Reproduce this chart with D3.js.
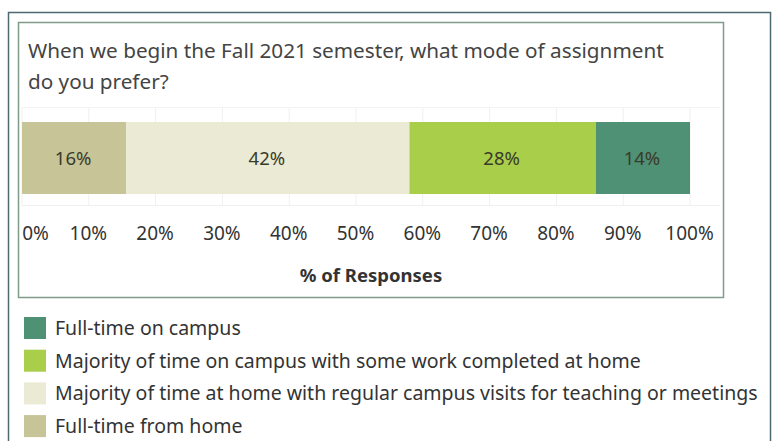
<!DOCTYPE html>
<html>
<head>
<meta charset="utf-8">
<script src="https://cdn.jsdelivr.net/npm/d3@7"></script>
<style>
  body { margin: 0; background: #fff; }
  text { font-family: "Noto Sans", sans-serif; fill: #333; }
</style>
</head>
<body>
<svg id="chart" width="775" height="441"></svg>
<script>
// data
var categories = ["Full-time from home",
                  "Majority of time at home with regular campus visits for teaching or meetings",
                  "Majority of time on campus with some work completed at home",
                  "Full-time on campus"];
var values = [15.6, 42.4, 27.9, 14.1];
var colors = ["#c7c498", "#ebead4", "#a9ce4a", "#4f9174"];
var tickValues = [0, 10, 20, 30, 40, 50, 60, 70, 80, 90, 100];
var titleLines = ["When we begin the Fall 2021 semester, what mode of assignment",
                  "do you prefer?"];
var legendOrder = [3, 2, 1, 0];

var svg = d3.select("#chart");

// outer + inner frames
svg.append("rect")
    .attr("x", 8.5).attr("y", 12.5)
    .attr("width", 762).attr("height", 440)
    .attr("fill", "none").attr("stroke", "#4d6a72").attr("stroke-width", 1.5);

svg.append("rect")
    .attr("x", 18.5).attr("y", 22.5)
    .attr("width", 705).attr("height", 275)
    .attr("fill", "none").attr("stroke", "#7f9c8b").attr("stroke-width", 1.5);

// title
svg.append("g").selectAll("text")
    .data(titleLines)
    .enter().append("text")
    .attr("x", 28)
    .attr("y", function (d, i) { return 58 + i * 31; })
    .style("font-size", "20.7px")
    .style("fill", "#444")
    .text(function (d) { return d; });

var x = d3.scaleLinear().domain([0, 100]).range([22, 690]);
var barTop = 122, barH = 72;

// gridlines
svg.append("g").selectAll("line")
    .data(tickValues)
    .enter().append("line")
    .attr("x1", function (d) { return x(d); })
    .attr("x2", function (d) { return x(d); })
    .attr("y1", 107).attr("y2", 206)
    .attr("stroke", "#f0f0f0").attr("stroke-width", 1);

svg.append("line")
    .attr("x1", 22).attr("x2", 720)
    .attr("y1", 107.5).attr("y2", 107.5)
    .attr("stroke", "#f3f3f3");
svg.append("line")
    .attr("x1", 22).attr("x2", 720)
    .attr("y1", 205.5).attr("y2", 205.5)
    .attr("stroke", "#efefef");

// stacked bar
var stack = [];
var acc = 0;
values.forEach(function (v, i) {
    stack.push({ start: acc, end: acc + v, value: v, color: colors[i] });
    acc += v;
});

var seg = svg.append("g").selectAll("g")
    .data(stack)
    .enter().append("g");

seg.append("rect")
    .attr("x", function (d) { return x(d.start); })
    .attr("y", barTop)
    .attr("width", function (d) { return x(d.end) - x(d.start); })
    .attr("height", barH)
    .attr("fill", function (d) { return d.color; });

seg.append("text")
    .attr("x", function (d) { return (x(d.start) + x(d.end)) / 2 - 1; })
    .attr("y", barTop + barH / 2 + 7)
    .attr("text-anchor", "middle")
    .style("font-size", "18.5px")
    .style("fill", "#3a3a2a")
    .text(function (d) { return Math.round(d.value) + "%"; });

// axis
var axis = d3.axisBottom(x)
    .tickValues(tickValues)
    .tickSize(0)
    .tickFormat(function (d) { return d + "%"; });

var ag = svg.append("g")
    .attr("transform", "translate(0,240)")
    .call(axis);
ag.select(".domain").remove();
ag.selectAll("text")
    .attr("y", 0)
    .attr("dy", 0)
    .attr("dx", function (d) { return d === 0 ? 13 : -1; })
    .style("font-size", "19px")
    .style("fill", "#333")
    .style("font-family", "Noto Sans, sans-serif");

svg.append("text")
    .attr("x", (x(0) + x(100)) / 2 + 15)
    .attr("y", 282)
    .attr("text-anchor", "middle")
    .style("font-size", "18.5px")
    .style("font-weight", "bold")
    .text("% of Responses");

// legend
var leg = svg.append("g").selectAll("g")
    .data(legendOrder)
    .enter().append("g")
    .attr("transform", function (d, i) { return "translate(24," + (317 + i * 32.7) + ")"; });

leg.append("rect")
    .attr("width", 22).attr("height", 22)
    .attr("fill", function (d) { return colors[d]; });

leg.append("text")
    .attr("x", 31)
    .attr("y", 18)
    .style("font-size", "19.5px")
    .text(function (d) { return categories[d]; });
</script>
</body>
</html>
